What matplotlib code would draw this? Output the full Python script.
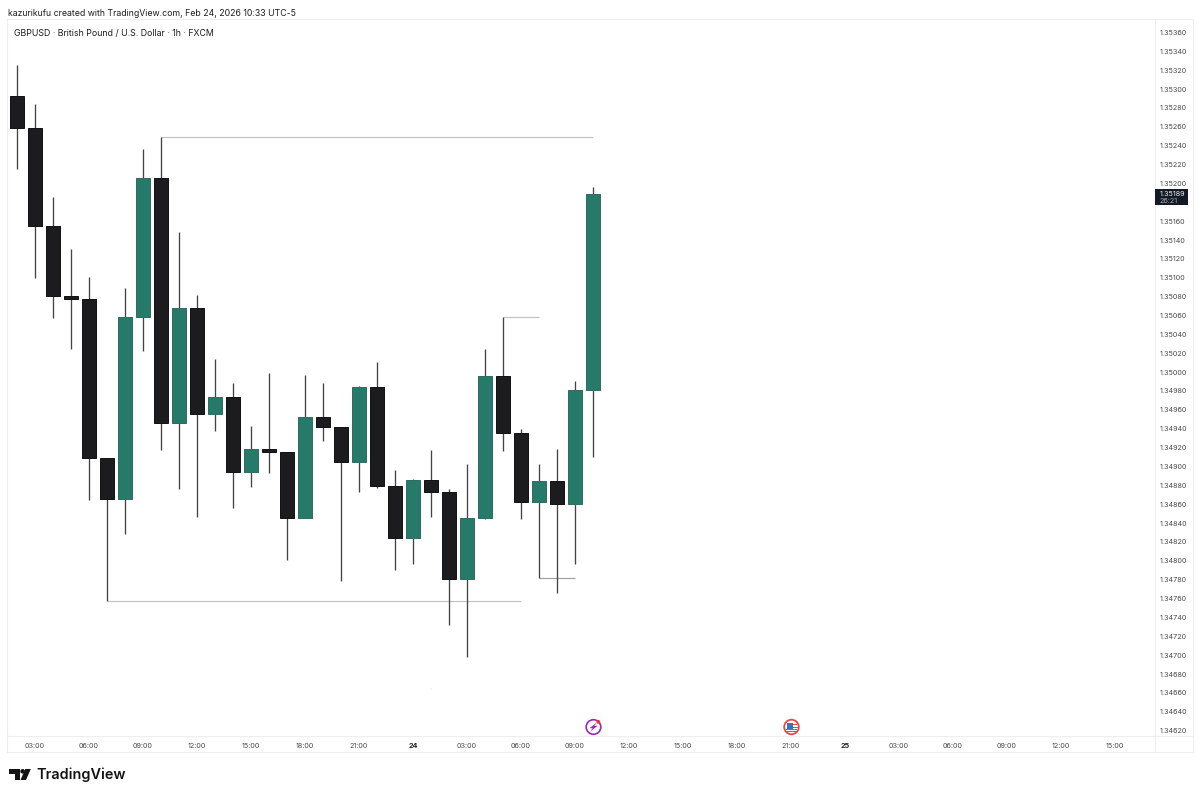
import matplotlib
matplotlib.use("Agg")
import matplotlib.pyplot as plt
from matplotlib.patches import Rectangle, Circle, Polygon

opens = [1.35293,1.35259,1.35155,1.35081,1.35077,1.34909,1.34865,1.35058,1.35206,1.34946,1.35068,
         1.34956,1.34974,1.34894,1.34919,1.34915,1.34845,1.34952,1.34942,1.34905,1.34984,1.34879,
         1.34824,1.34886,1.34873,1.34781,1.34845,1.34996,1.34935,1.34862,1.34885,1.34860,1.34981]
highs = [1.35326,1.35284,1.35186,1.35130,1.35101,1.34909,1.35089,1.35236,1.35249,1.35149,1.35082,
         1.35014,1.34988,1.34943,1.34999,1.34915,1.34997,1.34988,1.34942,1.34985,1.35011,1.34896,
         1.34887,1.34917,1.34876,1.34903,1.35025,1.35058,1.34940,1.34903,1.34918,1.34991,1.35196]
lows = [1.35215,1.35100,1.35057,1.35024,1.34864,1.34757,1.34828,1.35022,1.34917,1.34876,1.34846,
        1.34938,1.34856,1.34878,1.34893,1.34801,1.34845,1.34927,1.34779,1.34873,1.34877,1.34790,
        1.34797,1.34846,1.34732,1.34698,1.34844,1.34916,1.34844,1.34782,1.34766,1.34797,1.34910]
closes = [1.35259,1.35155,1.35081,1.35077,1.34909,1.34865,1.35058,1.35206,1.34946,1.35068,1.34956,
          1.34974,1.34894,1.34919,1.34915,1.34845,1.34952,1.34942,1.34905,1.34984,1.34879,1.34824,
          1.34886,1.34873,1.34781,1.34845,1.34996,1.34935,1.34862,1.34885,1.34860,1.34981,1.35189]

# horizontal level drawings: (start bar, end bar, price)
level_start = [8, 5, 27, 29]
level_end = [32, 28, 29, 31]
level_price = [1.35249, 1.34757, 1.35058, 1.34782]
level_color = ["#c2c2c2", "#c2c2c2", "#c2c2c2", "#a0a0a0"]

price_ticks = [1.34620,1.34640,1.34660,1.34680,1.34700,1.34720,1.34740,1.34760,1.34780,1.34800,
               1.34820,1.34840,1.34860,1.34880,1.34900,1.34920,1.34940,1.34960,1.34980,1.35000,
               1.35020,1.35040,1.35060,1.35080,1.35100,1.35120,1.35140,1.35160,1.35180,1.35200,
               1.35220,1.35240,1.35260,1.35280,1.35300,1.35320,1.35340,1.35360]
price_hidden = [1.35180]  # covered by the last-price tag
time_pos = [1,4,7,10,13,16,19,22,25,28,31,34,37,40,43,46,49,52,55,58,61]
time_labels = ["03:00","06:00","09:00","12:00","15:00","18:00","21:00","24","03:00","06:00","09:00",
               "12:00","15:00","18:00","21:00","25","03:00","06:00","09:00","12:00","15:00"]
last_price = 1.35189

W, H = 1200, 797
GREEN, BLACK = "#257a69", "#1c1c1e"
FONT = ["Inter", "DejaVu Sans"]
plt.rcParams["font.family"] = FONT

fig = plt.figure(figsize=(12, 7.97), dpi=100, facecolor="white")
L, R, T, B = 7, 1155, 19, 736
ax = fig.add_axes([L/W, 1-B/H, (R-L)/W, (B-T)/H])
ax.set_xlim((L-16.9)/18, (R-16.9)/18)
ax.set_ylim(1.35200-(B-183.4)/94350, 1.35200+(183.4-T)/94350)

for s, e, p, c in zip(level_start, level_end, level_price, level_color):
    ax.hlines(p, s, e, color=c, lw=0.85, zorder=1)

for i, (o, h, l, c) in enumerate(zip(opens, highs, lows, closes)):
    col = GREEN if c >= o else BLACK
    edge = "#2f6b5f" if c >= o else "#111113"
    ax.vlines(i, l, h, color="#444446", lw=0.95, zorder=2)
    ax.bar(i, abs(c-o), width=13.4/18, bottom=min(o, c), color=col, edgecolor=edge, lw=0.7, zorder=3)

ax.yaxis.tick_right()
ax.set_yticks([p for p in price_ticks if p not in price_hidden])
ax.set_yticklabels([f"{p:.5f}" for p in price_ticks if p not in price_hidden])
ax.set_xticks(time_pos)
ax.set_xticklabels(time_labels)
ax.tick_params(axis="both", length=0, labelsize=5.2, labelcolor="#4a4a4a")
ax.tick_params(axis="y", pad=3.2)
ax.tick_params(axis="x", pad=5)
for lab in ax.get_xticklabels():
    if lab.get_text() in ("24", "25"):
        lab.set_fontweight("bold")
        lab.set_color("#222222")
chrome = "#eeeef0"
for s in ax.spines.values():
    s.set_color(chrome)
    s.set_linewidth(0.8)

# chrome drawn in pixel coordinates
ov = fig.add_axes([0, 0, 1, 1], zorder=5)
ov.set_xlim(0, W); ov.set_ylim(H, 0); ov.axis("off"); ov.patch.set_alpha(0)
ov.plot([R, 1193], [T, T], color=chrome, lw=0.8)
ov.plot([1193, 1193], [T, 752], color=chrome, lw=0.8)
ov.plot([L, 1193], [752, 752], color=chrome, lw=0.8)
ov.plot([L, L], [B, 752], color=chrome, lw=0.8)
ov.plot([R, R], [B, 752], color=chrome, lw=0.8)
ov.plot([R, 1193], [B, B], color=chrome, lw=0.8)

ov.text(8, 13.5, "kazurikufu created with TradingView.com, Feb 24, 2026 10:33 UTC-5",
        fontsize=6.3, color="#1e1e1e", va="center", ha="left")
ov.text(13.5, 33, "GBPUSD · British Pound / U.S. Dollar · 1h · FXCM",
        fontsize=6.35, color="#1e1e1e", va="center", ha="left")

# last price tag
ov.add_patch(Rectangle((1155, 189.3), 33, 15.7, color="#131a26", lw=0))
ov.text(1160, 193.5, f"{last_price:.5f}", fontsize=5.2, color="#f0f0f0", va="center", ha="left")
ov.text(1160, 200.7, "26:21", fontsize=5.2, color="#a9adb5", va="center", ha="left")

# TradingView logo
k = "#131313"
ov.add_patch(Polygon([(9,769),(19.5,769),(19.5,780),(14.5,780),(14.5,773.7),(9,773.7)], color=k, lw=0))
ov.add_patch(Circle((22.6,771.3), 2.3, color=k, lw=0))
ov.add_patch(Polygon([(25.3,769),(30.8,769),(26,780),(20.5,780)], color=k, lw=0))
ov.text(36.5, 775, "TradingView", fontsize=10.4, fontweight="semibold", color=k, va="center", ha="left")

# faint speck under the candles
ov.add_patch(Circle((431, 689), 0.5, color="#c8c8c8", lw=0))

# event icons
ov.add_patch(Circle((593.5,727), 7.3, fc="white", ec="#9c27b0", lw=1.2))
ov.add_patch(Polygon([(597.5,722),(589.5,728.2),(592.8,728.2),(589.8,732),(597.6,725.8),(594.2,725.8)],
                     color="#9c27b0", lw=0))
ov.add_patch(Circle((598.3,721.8), 1.9, color="#e53935", lw=0))
ov.add_patch(Circle((791.5,727), 7.3, fc="white", ec="#e8474c", lw=1.3))
for y0, hh in [(729, 1.2), (731.3, 1.1)]:
    ov.add_patch(Rectangle((786, y0), 11, hh, color="#e8474c", lw=0))
ov.add_patch(Rectangle((786.5, 722.5), 6.5, 6, color="#3f6fc4", lw=0))
ov.add_patch(Rectangle((793, 724), 4, 1.1, color="#e8474c", lw=0))
ov.add_patch(Rectangle((793, 726.5), 4.5, 1.1, color="#e8474c", lw=0))

fig.savefig("out.png", dpi=100, facecolor="white")
